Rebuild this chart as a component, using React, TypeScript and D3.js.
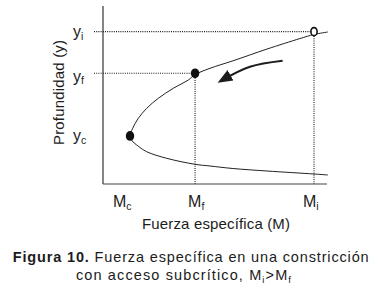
import React from "react";
import * as d3 from "d3";

// ---- data (abstract units: M on 0..100, depth y on 0..100) ----
const pointNames = ["c", "f", "i"];
const pointM = [12.05, 41.1, 94.2];
const pointY = [27.0, 62.2, 85.6];
const pointFilled = [true, true, false];

// upper (subcritical) branch, from the critical point outwards
const upperM = [12.1, 13.26, 15.76, 19.51, 24.69, 31.38, 38.08, 41.2, 47.77, 58.0, 73.2, 87.9, 94.2, 100.4];
const upperY = [27.0, 31.29, 36.91, 42.53, 48.15, 53.76, 58.43, 61.5, 65.0, 69.2, 75.8, 81.7, 84.0, 85.4];
// lower (supercritical) branch, from the critical point outwards
const lowerM = [12.1, 13.04, 15.04, 19.51, 28.44, 41.07, 47.77, 58.0, 73.2, 94.2, 100.4];
const lowerY = [27.0, 24.16, 21.91, 18.15, 14.44, 11.07, 10.11, 8.7, 7.3, 5.62, 5.06];

// arrow along the curve (from Mi toward Mf)
const arrowM = [80.2, 65.6, 52.5];
const arrowY = [69.3, 65.9, 57.9];

const yAxisTitle = "Profundidad (y)";
const xAxisTitle = "Fuerza específica (M)";
const captionBold = "Figura 10.";
const captionRest = " Fuerza específica en una constricción";
const caption2 = "con acceso subcrítico, ";

// layout tweaks for labels (px)
const xLabelDx = [-17, -7, -11];
const yLabelDy = [5.5, 8.5, 5.5];

const W = 374;
const H = 293;
const ink = "#1c1c1c";
const font = "'Liberation Sans', Arial, Helvetica, sans-serif";

export default function App() {
  const x = d3.scaleLinear().domain([0, 100]).range([103, 327]);
  const y = d3.scaleLinear().domain([0, 100]).range([184, 6]);

  const curvePts: [number, number][] = [];
  for (let i = lowerM.length - 1; i >= 1; i--) curvePts.push([lowerM[i], lowerY[i]]);
  for (let i = 0; i < upperM.length; i++) curvePts.push([upperM[i], upperY[i]]);

  const line = d3
    .line<[number, number]>()
    .x((d) => x(d[0]))
    .y((d) => y(d[1]))
    .curve(d3.curveCatmullRom.alpha(0.5));

  const arrowPts: [number, number][] = arrowM.map((m, i) => [m, arrowY[i]]);

  const x0 = x(0);
  const y0 = y(0);

  return (
    <svg
      width={W}
      height={H}
      viewBox={`0 0 ${W} ${H}`}
      style={{ position: "absolute", left: 0, top: 0, background: "#fff" }}
      fontFamily={font}
    >
      <defs>
        <marker
          id="ah"
          markerUnits="userSpaceOnUse"
          markerWidth={16}
          markerHeight={14}
          viewBox="0 -6 14 12"
          refX={10}
          refY={0}
          orient="auto"
        >
          <path d="M0,-5.2 L13,0 L0,5.2 Z" fill={ink} />
        </marker>
      </defs>
      <rect x={0} y={0} width={W} height={H} fill="#fff" />

      {/* axes */}
      <line x1={x0} y1={y(100)} x2={x0} y2={y0} stroke="#333" strokeWidth={1.2} />
      <line x1={x0} y1={y0} x2={x(100)} y2={y0} stroke="#444" strokeWidth={1.1} />

      {/* dotted guide lines */}
      {pointNames.map((n, i) =>
        i === 0 ? null : (
          <g key={"g" + n}>
            <line
              x1={x0 - 9}
              y1={y(pointY[i])}
              x2={x(pointM[i])}
              y2={y(pointY[i])}
              stroke={ink}
              strokeWidth={1.1}
              strokeDasharray="1,1.2"
            />
            <line
              x1={x(pointM[i])}
              y1={y(pointY[i])}
              x2={x(pointM[i])}
              y2={y0}
              stroke={ink}
              strokeWidth={1.1}
              strokeDasharray="1,1.2"
            />
          </g>
        )
      )}

      {/* specific force curve */}
      <path d={line(curvePts) || ""} fill="none" stroke="#222" strokeWidth={1} />

      {/* arrow */}
      <path
        d={line(arrowPts) || ""}
        fill="none"
        stroke={ink}
        strokeWidth={2}
        markerEnd="url(#ah)"
      />

      {/* points */}
      {pointNames.map((n, i) =>
        pointFilled[i] ? (
          <ellipse key={"p" + n} cx={x(pointM[i])} cy={y(pointY[i])} rx={4.2} ry={4.9} fill="#111" />
        ) : (
          <ellipse
            key={"p" + n}
            cx={x(pointM[i])}
            cy={y(pointY[i])}
            rx={3.1}
            ry={4}
            fill="#fff"
            stroke="#111"
            strokeWidth={1.6}
          />
        )
      )}

      {/* y tick labels */}
      {pointNames.map((n, i) => (
        <text key={"yl" + n} x={73} y={y(pointY[i]) + yLabelDy[i]} fontSize={16} fill={ink}>
          y
          <tspan fontSize={10.5} dy={2.5}>
            {n}
          </tspan>
        </text>
      ))}

      {/* x tick labels */}
      {pointNames.map((n, i) => (
        <text key={"xl" + n} x={x(pointM[i]) + xLabelDx[i]} y={207} fontSize={16} fill={ink}>
          M
          <tspan fontSize={10.5} dy={2.5}>
            {n}
          </tspan>
        </text>
      ))}

      {/* axis titles */}
      <text
        x={216}
        y={229}
        fontSize={15}
        fill={ink}
        textAnchor="middle"
        textLength={148}
        lengthAdjust="spacing"
      >
        {xAxisTitle}
      </text>
      <text
        transform={`translate(64,92.5) rotate(-90)`}
        fontSize={15}
        fill={ink}
        textAnchor="middle"
        textLength={105}
        lengthAdjust="spacing"
      >
        {yAxisTitle}
      </text>

      {/* caption */}
      <text x={12.7} y={262} fontSize={14.5} fill={ink} textLength={356} lengthAdjust="spacing">
        <tspan fontWeight="bold">{captionBold}</tspan>
        <tspan>{captionRest}</tspan>
      </text>
      <text x={76} y={280} fontSize={14.5} fill={ink} textLength={215} lengthAdjust="spacing">
        {caption2}M
        <tspan fontSize={9.5} dy={2.5}>
          i
        </tspan>
        <tspan dy={-2.5}>&gt;M</tspan>
        <tspan fontSize={9.5} dy={2.5}>
          f
        </tspan>
      </text>
    </svg>
  );
}
